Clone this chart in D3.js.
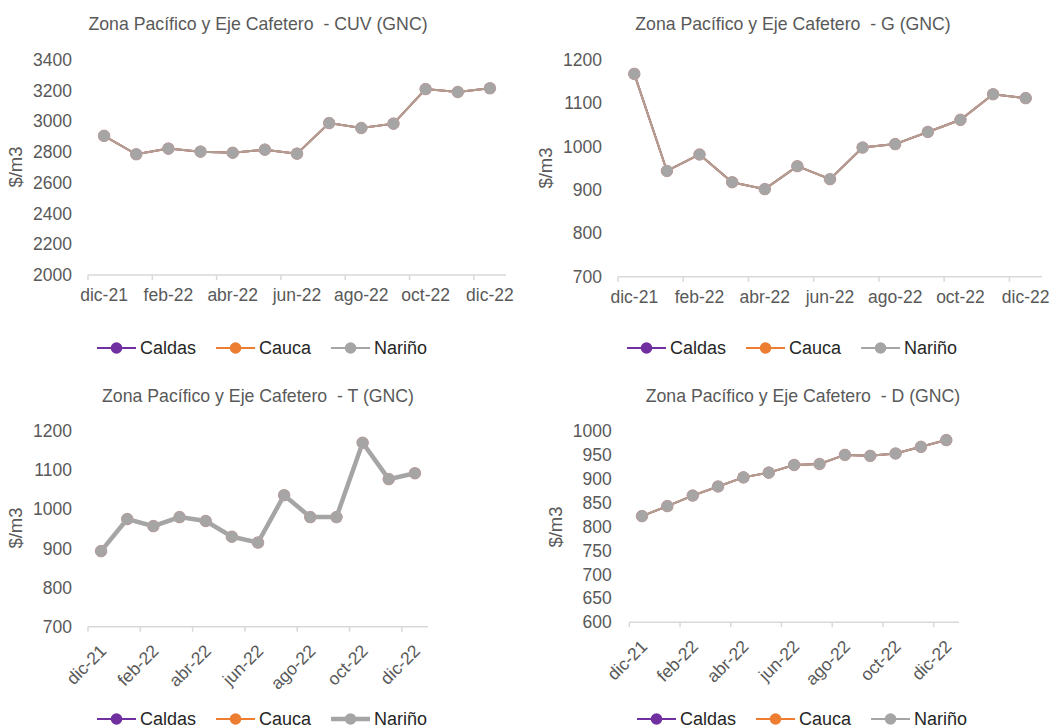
<!DOCTYPE html>
<meta charset="utf-8">
<html lang="es">
<head>
<title>Zona Pacífico y Eje Cafetero (GNC)</title>
<style>
body { margin: 0; background: #fff; }
svg text { font-family: "Liberation Sans", Arial, sans-serif; fill: #595959; }
.title { font-size: 17.7px; white-space: pre; }
.tick text { font-size: 17.5px; }
.ylab { font-size: 18.5px; }
.legend text { font-size: 18px; fill: #262626; }
</style>
</head>
<body>
<script src="https://d3js.org/d3.v7.min.js"></script>
<script>

var width = 1057,
    height = 728;

var months = ["dic-21", "ene-22", "feb-22", "mar-22", "abr-22", "may-22", "jun-22",
              "jul-22", "ago-22", "sep-22", "oct-22", "nov-22", "dic-22"];

// the three departments share the same values, lines sit on top of each other
var cuvValues = [2905, 2785, 2822, 2802, 2795, 2815, 2789, 2988, 2956, 2984, 3209, 3190, 3214];
var gValues   = [1168, 944, 982, 918, 902, 955, 925, 998, 1006, 1034, 1062, 1121, 1112];
var tValues   = [893, 975, 957, 980, 970, 930, 915, 1036, 980, 980, 1170, 1077, 1092];
var dValues   = [822, 843, 865, 884, 903, 913, 929, 931, 950, 948, 953, 967, 981];

var seriesNames = ["Caldas", "Cauca", "Nariño"];
var color = d3.scaleOrdinal().domain(seriesNames).range(["#7030A0", "#ED7D31", "#A5A5A5"]);

var panels = [
  {title: "Zona Pacífico y Eje Cafetero  - CUV (GNC)", values: cuvValues,
   yDomain: [2000, 3400], yStep: 200, x0: 88, x1: 506, yTop: 59.7, yBot: 275,
   labelRight: 72, titleX: 258, titleY: 24, ylabX: 16, ylabY: 167,
   rotate: false, legendX: 97, legendY: 348, thick: false},
  {title: "Zona Pacífico y Eje Cafetero  - G (GNC)", values: gValues,
   yDomain: [700, 1200], yStep: 100, x0: 618, x1: 1042, yTop: 60, yBot: 276.7,
   labelRight: 602, titleX: 793, titleY: 24, ylabX: 546, ylabY: 168,
   rotate: false, legendX: 627, legendY: 348, thick: false},
  {title: "Zona Pacífico y Eje Cafetero  - T (GNC)", values: tValues,
   yDomain: [700, 1200], yStep: 100, x0: 88, x1: 428, yTop: 431, yBot: 626.7,
   labelRight: 72, titleX: 258, titleY: 396, ylabX: 16, ylabY: 528,
   rotate: true, legendX: 97, legendY: 719, thick: true},
  {title: "Zona Pacífico y Eje Cafetero  - D (GNC)", values: dValues,
   yDomain: [600, 1000], yStep: 50, x0: 629.3, x1: 959, yTop: 431, yBot: 622.3,
   labelRight: 611.7, titleX: 803, titleY: 396, ylabX: 556, ylabY: 527,
   rotate: true, legendX: 637, legendY: 719, thick: false}
];

var svg = d3.select("body").append("svg")
    .attr("width", width)
    .attr("height", height);

panels.forEach(drawPanel);

function drawPanel(p) {
  var g = svg.append("g");

  var x = d3.scaleBand().domain(months).range([p.x0, p.x1]);
  var y = d3.scaleLinear().domain(p.yDomain).range([p.yBot, p.yTop]);

  g.append("text")
      .attr("class", "title")
      .attr("x", p.titleX)
      .attr("y", p.titleY)
      .attr("dy", "0.35em")
      .attr("text-anchor", "middle")
      .text(p.title);

  // y axis: labels only
  var yAxis = d3.axisLeft(y)
      .tickValues(d3.range(p.yDomain[0], p.yDomain[1] + 1, p.yStep))
      .tickFormat(d3.format("d"))
      .tickSize(0)
      .tickPadding(0);
  var ya = g.append("g")
      .attr("transform", "translate(" + p.labelRight + ",0)")
      .call(yAxis);
  ya.select(".domain").remove();
  ya.attr("font-family", null).attr("font-size", null);
  ya.selectAll("text").attr("fill", null);

  g.append("text")
      .attr("class", "ylab")
      .attr("transform", "translate(" + p.ylabX + "," + p.ylabY + ") rotate(-90)")
      .attr("dy", "0.35em")
      .attr("text-anchor", "middle")
      .text("$/m3");

  // x axis line, tick marks every 2 months at band edges
  g.append("line")
      .attr("x1", p.x0).attr("x2", p.x1)
      .attr("y1", p.yBot).attr("y2", p.yBot)
      .attr("stroke", "#D9D9D9").attr("stroke-width", 1.5);

  var shown = months.filter(function(d, i) { return i % 2 === 0; });

  g.selectAll(".xtick")
      .data(shown)
    .enter().append("line")
      .attr("x1", function(d) { return x(d); })
      .attr("x2", function(d) { return x(d); })
      .attr("y1", p.yBot).attr("y2", p.yBot + 5)
      .attr("stroke", "#D9D9D9").attr("stroke-width", 1.5);

  var xl = g.selectAll(".xlab")
      .data(shown)
    .enter().append("text")
      .attr("class", "xlab")
      .style("font-size", "17.5px")
      .text(function(d) { return d; });

  if (p.rotate) {
    xl.attr("text-anchor", "end")
      .attr("transform", function(d) {
        return "translate(" + (x(d) + x.bandwidth() / 2 + 2) + "," + (p.yBot + 21) + ") rotate(-45)";
      })
      .attr("dy", "0.35em");
  } else {
    xl.attr("text-anchor", "middle")
      .attr("x", function(d) { return x(d) + x.bandwidth() / 2; })
      .attr("y", p.yBot + 20)
      .attr("dy", "0.35em");
  }

  var line = d3.line()
      .x(function(d, i) { return x(months[i]) + x.bandwidth() / 2; })
      .y(function(d) { return y(d); });

  seriesNames.forEach(function(name) {
    var isTop = name === "Nariño";
    var w = (isTop && p.thick) ? 4.5 : 2;
    g.append("path")
        .datum(p.values)
        .attr("fill", "none")
        .attr("stroke", color(name))
        .attr("stroke-opacity", (isTop && !p.thick) ? 0.85 : 1)
        .attr("stroke-width", w)
        .attr("d", line);

    g.selectAll(".pt-" + name)
        .data(p.values)
      .enter().append("circle")
        .attr("cx", function(d, i) { return x(months[i]) + x.bandwidth() / 2; })
        .attr("cy", function(d) { return y(d); })
        .attr("r", 5.8)
        .attr("fill", color(name))
        .attr("stroke", isTop ? "#B7A3A3" : "none")
        .attr("stroke-width", 0.8);
  });

  // legend
  var lg = g.append("g").attr("class", "legend");
  var cx = p.legendX;
  seriesNames.forEach(function(name) {
    var isTop = name === "Nariño";
    var item = lg.append("g");
    item.append("line")
        .attr("x1", cx).attr("x2", cx + 39)
        .attr("y1", p.legendY).attr("y2", p.legendY)
        .attr("stroke", color(name))
        .attr("stroke-width", (isTop && p.thick) ? 4.5 : 2);
    item.append("circle")
        .attr("cx", cx + 19.5).attr("cy", p.legendY)
        .attr("r", 5.8)
        .attr("fill", color(name));
    var t = item.append("text")
        .attr("x", cx + 43)
        .attr("y", p.legendY)
        .attr("dy", "0.35em")
        .text(name);
    cx += 43 + t.node().getComputedTextLength() + 20;
  });
}

</script>
</body>
</html>
